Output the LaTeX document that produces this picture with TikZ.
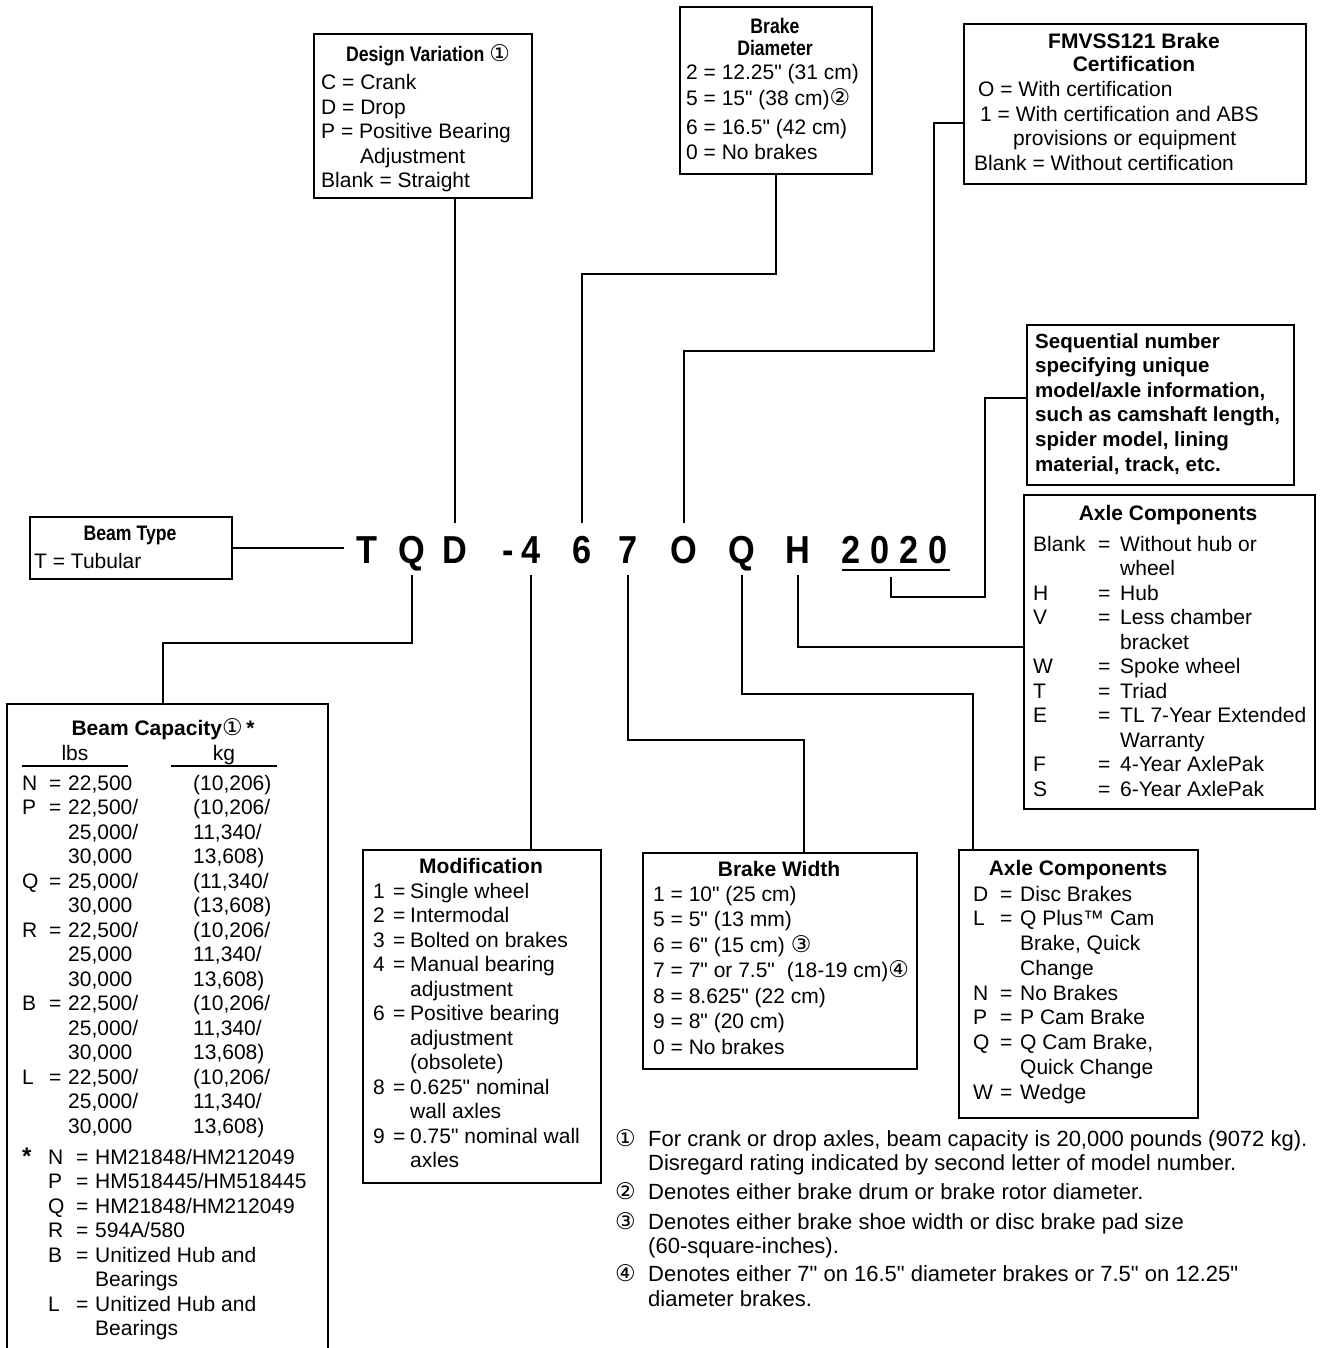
\documentclass[tikz,border=0pt]{standalone}
\usepackage{fontspec}
\setmainfont[Ligatures=TeXOff]{Liberation Sans}
\newfontfamily\condf[FakeStretch=0.84,Ligatures=TeXOff]{Liberation Sans}
\newfontfamily\modelf[FakeStretch=0.88]{Liberation Sans}
\newfontfamily\dejavu{DejaVu Sans}
\usetikzlibrary{calc}
\newcommand\bodyfont{\fontsize{21}{24.5}\selectfont}
\newcommand\ttlfont{\bfseries\fontsize{21}{24.5}\selectfont}
\newcommand\condtitle{\condf\bfseries\fontsize{21}{24.5}\selectfont}
\newcommand\circnum[1]{{\dejavu\mdseries\fontsize{23}{23}\selectfont #1}}
\newcommand\kv[5]{\makebox[#1][l]{#3}\makebox[#2][l]{#4}#5}
\newcommand\bcrow[4]{\makebox[27pt][l]{#1}\makebox[19pt][l]{#2}\makebox[125pt][l]{#3}#4}
\newcommand\skv[4]{\makebox[26pt][l]{#1}\makebox[28pt][l]{#2}\makebox[19pt][l]{#3}#4}
\newcommand\bigstar{{\bfseries\fontsize{24}{24}\selectfont *}}
\begin{document}
\begin{tikzpicture}[x=1pt,y=-1pt,
  box/.style={draw, line width=2.4pt, inner sep=0pt, anchor=north west},
  conn/.style={line width=2.2pt},
  txt/.style={inner sep=0pt, anchor=base west, font=\bodyfont},
  ttl/.style={inner sep=0pt, anchor=base, font=\ttlfont},
  letter/.style={inner sep=0pt, anchor=base, text height=28pt, text depth=0pt,
    font=\modelf\bfseries\fontsize{39}{39}\selectfont}]
\useasboundingbox (0,0) rectangle (1322,1348);
\clip (0,0) rectangle (1322,1348);
\fill[white] (0,0) rectangle (1322,1348);

% ---------- boxes
\node[box, minimum width=218pt, minimum height=164pt] (dv) at (313,33) {};
\node[box, minimum width=192pt, minimum height=167pt] (bd) at (679,6) {};
\node[box, minimum width=342pt, minimum height=160pt] (fm) at (963,23) {};
\node[box, minimum width=267pt, minimum height=160pt] (sq) at (1026,324) {};
\node[box, minimum width=291pt, minimum height=314pt] (ar) at (1023,494) {};
\node[box, minimum width=202pt, minimum height=62pt] (bt) at (29,516) {};
\node[box, minimum width=321pt, minimum height=700pt] (bc) at (6,703) {};
\node[box, minimum width=238pt, minimum height=333pt] (mo) at (362,849) {};
\node[box, minimum width=274pt, minimum height=216pt] (bw) at (642,852) {};
\node[box, minimum width=239pt, minimum height=268pt] (ab) at (958,849) {};

% ---------- Design variation
\node[ttl, font=\condtitle] (dvT) at (428,62) {Design Variation \circnum{①}};
\node[txt] (dvB) at (321,90) {\begin{tabular}[t]{@{}l@{}}C = Crank\\D = Drop\\P = Positive Bearing\\\hspace*{39pt}Adjustment\\Blank = Straight\end{tabular}};

% ---------- Brake diameter
\node[ttl, font=\condtitle] (bdT) at (775,34) {\begin{tabular}[t]{@{}c@{}}Brake\\[-2.5pt]Diameter\end{tabular}};
\node[txt] (bdB) at (686,80) {\begin{tabular}[t]{@{}l@{}}2 = 12.25" (31 cm)\\[1.5pt]5 = 15" (38 cm)\circnum{②}\\[4.5pt]6 = 16.5" (42 cm)\\[0.5pt]0 = No brakes\end{tabular}};

% ---------- FMVSS
\node[ttl] (fmT) at (1134,49) {\begin{tabular}[t]{@{}c@{}}FMVSS121 Brake\\[-1.5pt]Certification\end{tabular}};
\node[txt] (fmB) at (974,97) {\begin{tabular}[t]{@{}l@{}}\hspace*{4pt}O = With certification\\\hspace*{6pt}1 = With certification and ABS\\\hspace*{39pt}provisions or equipment\\Blank = Without certification\end{tabular}};

% ---------- Sequential number
\node[txt, font=\bfseries\fontsize{20.5}{24.6}\selectfont] (sqB) at (1035,348) {\begin{tabular}[t]{@{}l@{}}Sequential number\\specifying unique\\model/axle information,\\such as camshaft length,\\spider model, lining\\material, track, etc.\end{tabular}};

% ---------- Axle components (right)
\node[ttl] (arT) at (1168,520) {Axle Components};
\node[txt] (arB) at (1033,551) {\begin{tabular}[t]{@{}l@{}}%
\kv{65pt}{22pt}{Blank}{=}{Without hub or}\\
\kv{65pt}{22pt}{}{}{wheel}\\
\kv{65pt}{22pt}{H}{=}{Hub}\\
\kv{65pt}{22pt}{V}{=}{Less chamber}\\
\kv{65pt}{22pt}{}{}{bracket}\\
\kv{65pt}{22pt}{W}{=}{Spoke wheel}\\
\kv{65pt}{22pt}{T}{=}{Triad}\\
\kv{65pt}{22pt}{E}{=}{TL 7-Year Extended}\\
\kv{65pt}{22pt}{}{}{Warranty}\\
\kv{65pt}{22pt}{F}{=}{4-Year AxlePak}\\
\kv{65pt}{22pt}{S}{=}{6-Year AxlePak}\end{tabular}};

% ---------- Beam type
\node[ttl, font=\condtitle] (btT) at (130,540) {Beam Type};
\node[txt] (btB) at (34,568) {T = Tubular};

% ---------- Beam capacity
\node[ttl] (bcT) at (163,735) {Beam Capacity\circnum{①}\,*};
\node[txt, anchor=base] (bcL) at (75,760) {lbs};
\node[txt, anchor=base] (bcK) at (224,760) {kg};
\draw[line width=2.4pt] (22,766) -- (128,766);
\draw[line width=2.4pt] (171,766) -- (277,766);
\node[txt] (bcB) at (22,790) {\begin{tabular}[t]{@{}l@{}}%
\bcrow{N}{=}{22,500}{(10,206)}\\
\bcrow{P}{=}{22,500/}{(10,206/}\\
\bcrow{}{}{25,000/}{11,340/}\\
\bcrow{}{}{30,000}{13,608)}\\
\bcrow{Q}{=}{25,000/}{(11,340/}\\
\bcrow{}{}{30,000}{(13,608)}\\
\bcrow{R}{=}{22,500/}{(10,206/}\\
\bcrow{}{}{25,000}{11,340/}\\
\bcrow{}{}{30,000}{13,608)}\\
\bcrow{B}{=}{22,500/}{(10,206/}\\
\bcrow{}{}{25,000/}{11,340/}\\
\bcrow{}{}{30,000}{13,608)}\\
\bcrow{L}{=}{22,500/}{(10,206/}\\
\bcrow{}{}{25,000/}{11,340/}\\
\bcrow{}{}{30,000}{13,608)}\end{tabular}};
\node[txt] (bcS) at (22,1164) {\begin{tabular}[t]{@{}l@{}}%
\skv{\bigstar}{N}{=}{HM21848/HM212049}\\
\skv{}{P}{=}{HM518445/HM518445}\\
\skv{}{Q}{=}{HM21848/HM212049}\\
\skv{}{R}{=}{594A/580}\\
\skv{}{B}{=}{Unitized Hub and}\\
\skv{}{}{}{Bearings}\\
\skv{}{L}{=}{Unitized Hub and}\\
\skv{}{}{}{Bearings}\end{tabular}};

% ---------- Modification
\node[ttl] (moT) at (481,873) {Modification};
\node[txt] (moB) at (373,898) {\begin{tabular}[t]{@{}l@{}}%
\kv{20pt}{17pt}{1}{=}{Single wheel}\\
\kv{20pt}{17pt}{2}{=}{Intermodal}\\
\kv{20pt}{17pt}{3}{=}{Bolted on brakes}\\
\kv{20pt}{17pt}{4}{=}{Manual bearing}\\
\kv{20pt}{17pt}{}{}{adjustment}\\
\kv{20pt}{17pt}{6}{=}{Positive bearing}\\
\kv{20pt}{17pt}{}{}{adjustment}\\
\kv{20pt}{17pt}{}{}{(obsolete)}\\
\kv{20pt}{17pt}{8}{=}{0.625" nominal}\\
\kv{20pt}{17pt}{}{}{wall axles}\\
\kv{20pt}{17pt}{9}{=}{0.75" nominal wall}\\
\kv{20pt}{17pt}{}{}{axles}\end{tabular}};

% ---------- Brake width
\node[ttl] (bwT) at (779,876) {Brake Width};
\node[txt, font=\fontsize{21}{25.5}\selectfont] (bwB) at (653,901) {\begin{tabular}[t]{@{}l@{}}%
1 = 10" (25 cm)\\
5 = 5" (13 mm)\\
6 = 6" (15 cm) \circnum{③}\\
7 = 7" or 7.5"\hspace{12pt}(18-19 cm)\circnum{④}\\
8 = 8.625" (22 cm)\\
9 = 8" (20 cm)\\
0 = No brakes\end{tabular}};

% ---------- Axle components (bottom)
\node[ttl] (abT) at (1078,875) {Axle Components};
\node[txt, font=\fontsize{21}{24.75}\selectfont] (abB) at (973,901) {\begin{tabular}[t]{@{}l@{}}%
\kv{27pt}{20pt}{D}{=}{Disc Brakes}\\
\kv{27pt}{20pt}{L}{=}{Q Plus™ Cam}\\
\kv{27pt}{20pt}{}{}{Brake, Quick}\\
\kv{27pt}{20pt}{}{}{Change}\\
\kv{27pt}{20pt}{N}{=}{No Brakes}\\
\kv{27pt}{20pt}{P}{=}{P Cam Brake}\\
\kv{27pt}{20pt}{Q}{=}{Q Cam Brake,}\\
\kv{27pt}{20pt}{}{}{Quick Change}\\
\kv{27pt}{20pt}{W}{=}{Wedge}\end{tabular}};

% ---------- Footnotes
\node[txt, font=\fontsize{22}{24.5}\selectfont] (fn) at (615,1146) {\begin{tabular}[t]{@{}l@{}l@{}}%
\makebox[33pt][l]{\circnum{①}}&For crank or drop axles, beam capacity is 20,000 pounds (9072 kg).\\
&Disregard rating indicated by second letter of model number.\\[4pt]
\makebox[33pt][l]{\circnum{②}}&Denotes either brake drum or brake rotor diameter.\\[5.5pt]
\makebox[33pt][l]{\circnum{③}}&Denotes either brake shoe width or disc brake pad size\\
&(60-square-inches).\\[3.5pt]
\makebox[33pt][l]{\circnum{④}}&Denotes either 7" on 16.5" diameter brakes or 7.5" on 12.25"\\
&diameter brakes.\end{tabular}};

% ---------- model number
\node[letter] (lT) at (367,563) {T};
\node[letter] (lQ) at (412,563) {Q};
\node[letter] (lD) at (455,563) {D};
\node[letter] (lDash) at (508,563) {-};
\node[letter] (l4) at (531,563) {4};
\node[letter] (l6) at (582,563) {6};
\node[letter] (l7) at (628,563) {7};
\node[letter] (lO) at (684,563) {O};
\node[letter] (lQb) at (742,563) {Q};
\node[letter] (lH) at (798,563) {H};
\node[letter] (n1) at (851,563) {2};
\node[letter] (n2) at (880,563) {0};
\node[letter] (n3) at (909,563) {2};
\node[letter] (n4) at (938,563) {0};
\draw[line width=2.8pt] (842,570) -- (950,570);

% ---------- connectors
\coordinate (bdK) at (0,274);
\coordinate (fmP) at (934,351);
\coordinate (sqP) at (985,597);
\coordinate (ulP) at (891,577);
\coordinate (bcP) at (163,643);
\coordinate (bwP) at (804,740);
\coordinate (abP) at (973,694);
\coordinate (btP) at (344,0);

\draw[conn] (lD |- dv.south) -- ($(lD.north)+(0,-12)$);
\draw[conn] (bd.south) |- (l6 |- bdK) -- ($(l6.north)+(0,-12)$);
\draw[conn] ($(fm.north west)+(0,100)$) -| (fmP) -| ($(lO.north)+(0,-12)$);
\draw[conn] ($(sq.north west)+(0,74)$) -| (sqP) -| (ulP);
\draw[conn] ($(lH.south)+(0,12)$) |- ($(ar.north west)+(0,153)$);
\draw[conn] ($(lQ.south)+(0,12)$) |- (bcP) -- (bcP |- bc.north);
\draw[conn] ($(l4.south)+(0,12)$) -- (l4 |- mo.north);
\draw[conn] ($(l7.south)+(0,12)$) |- (bwP) -- (bwP |- bw.north);
\draw[conn] ($(lQb.south)+(0,12)$) |- (abP) -- (abP |- ab.north);
\draw[conn] (bt.east) -- (bt.east -| btP);
\end{tikzpicture}
\end{document}
